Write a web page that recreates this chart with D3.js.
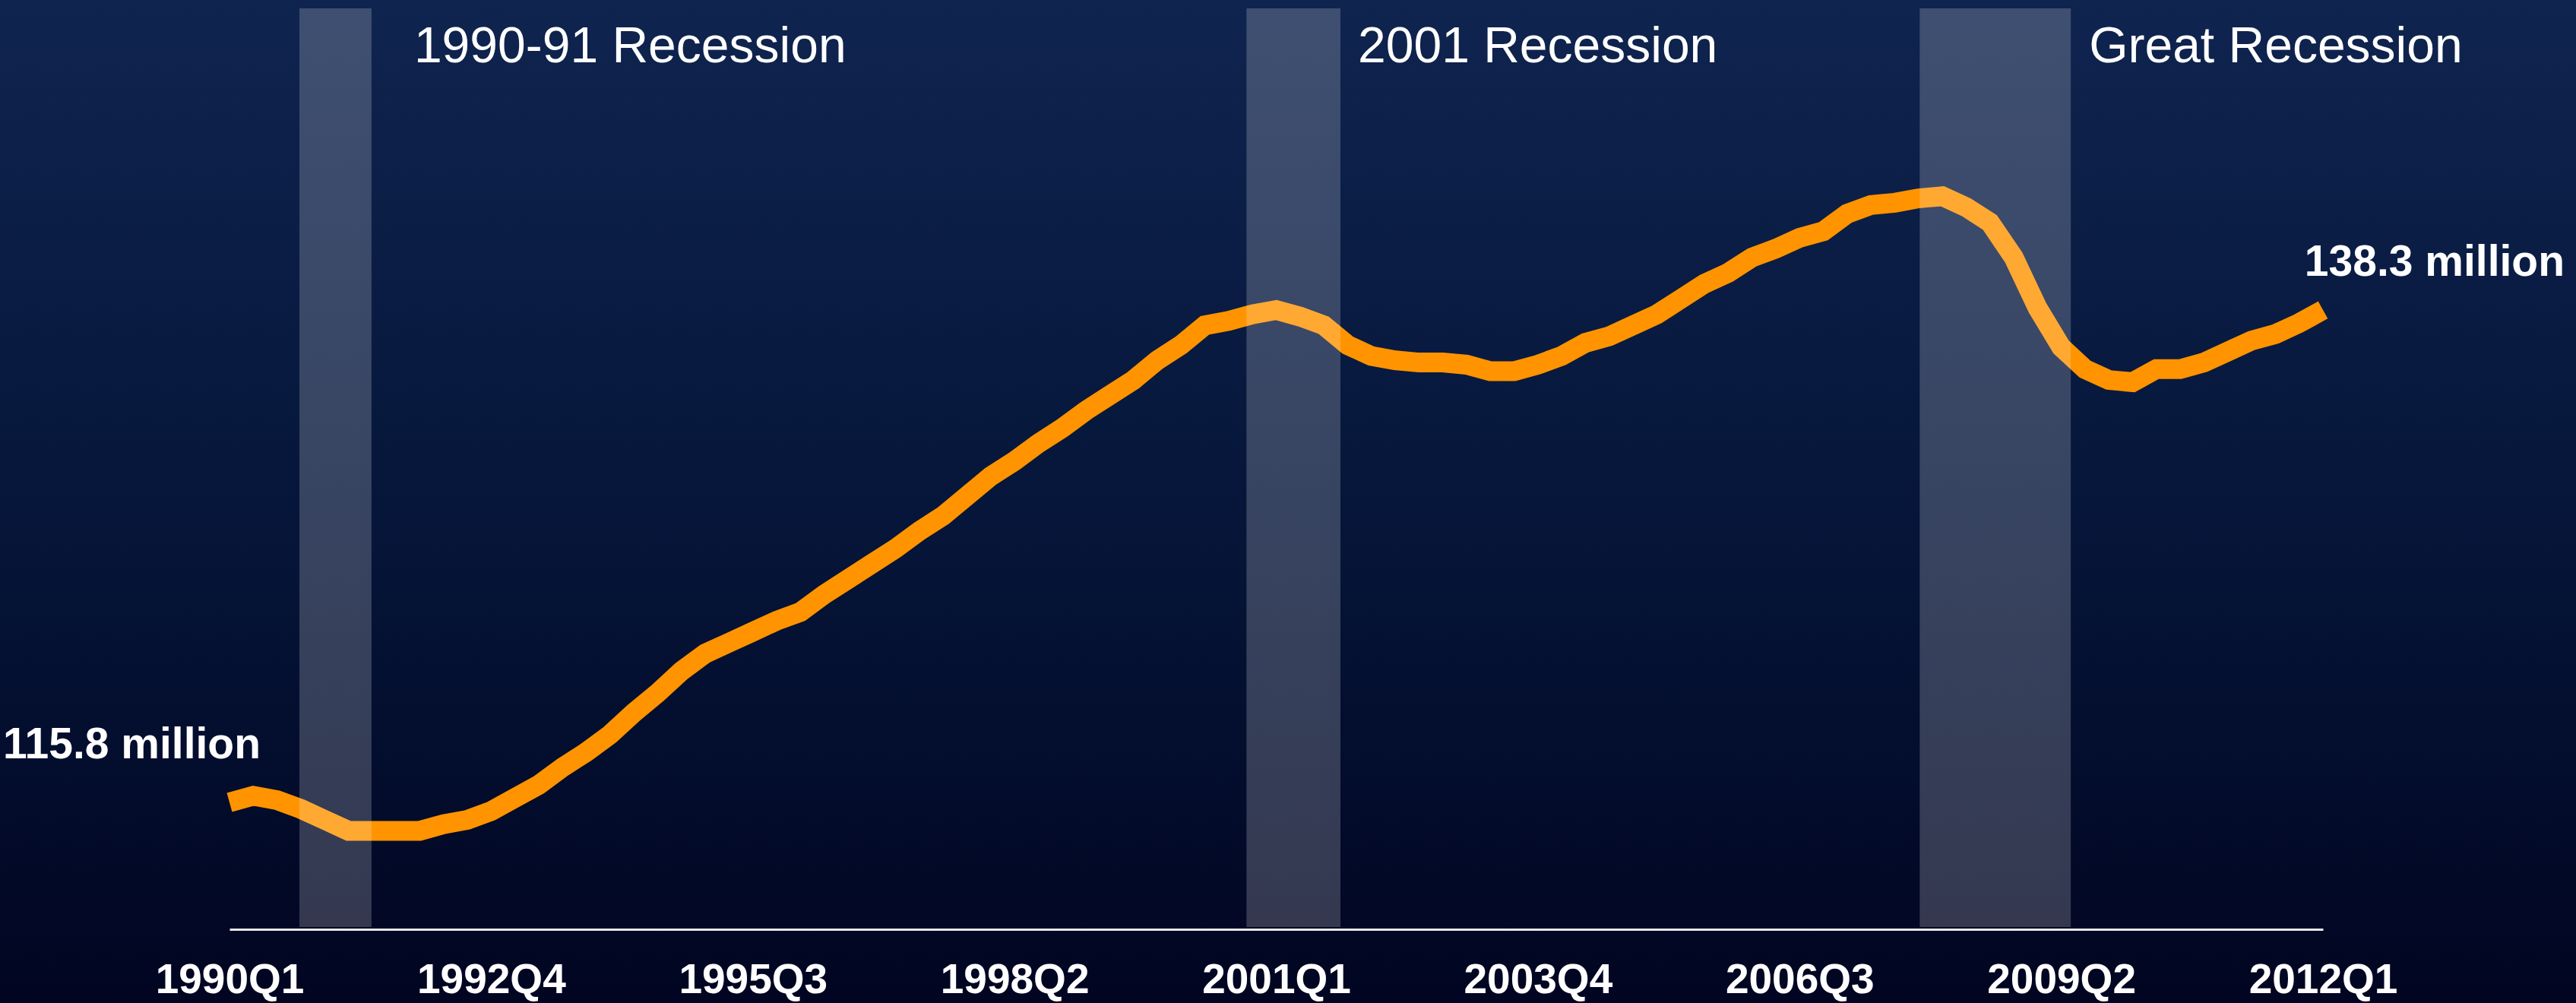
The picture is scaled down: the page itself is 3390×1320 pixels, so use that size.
<!DOCTYPE html>
<html>
<head>
<meta charset="utf-8">
<script src="https://cdn.jsdelivr.net/npm/d3@7"></script>
<style>
  html, body { margin: 0; padding: 0; background: #020826; overflow: hidden; }
  svg { display: block; }
  text { font-family: "Liberation Sans", Arial, Helvetica, sans-serif; fill: #ffffff; }
</style>
</head>
<body>
<script>
// ---------- DATA ----------
const quarters = [];
for (let y = 1990; y <= 2012; y++) {
  for (let q = 1; q <= 4; q++) {
    if (y === 2012 && q > 1) break;
    quarters.push(y + "Q" + q);
  }
}
// employment, millions (quarterly, 1990Q1 .. 2012Q1)
const employment = [
  115.8, 116.1, 115.9, 115.5, 115.0, 114.5, 114.5, 114.5, 114.5, 114.8,
  115.0, 115.4, 116.0, 116.6, 117.4, 118.1, 118.9, 119.9, 120.8, 121.8,
  122.6, 123.1, 123.6, 124.1, 124.5, 125.3, 126.0, 126.7, 127.4, 128.2,
  128.9, 129.8, 130.7, 131.4, 132.2, 132.9, 133.7, 134.4, 135.1, 136.0,
  136.7, 137.6, 137.8, 138.1, 138.3, 138.0, 137.6, 136.7, 136.2, 136.0,
  135.9, 135.9, 135.8, 135.5, 135.5, 135.8, 136.2, 136.8, 137.1, 137.6,
  138.1, 138.8, 139.5, 140.0, 140.7, 141.1, 141.6, 141.9, 142.7, 143.1,
  143.2, 143.4, 143.5, 143.0, 142.3, 140.7, 138.4, 136.6, 135.6, 135.1,
  135.0, 135.6, 135.6, 135.9, 136.4, 136.9, 137.2, 137.7, 138.3
];
const tickLabels = ["1990Q1", "1992Q4", "1995Q3", "1998Q2", "2001Q1", "2003Q4", "2006Q3", "2009Q2", "2012Q1"];
// recession shading, in quarter-index units
const recessionNames = ["1990-91 Recession", "2001 Recession", "Great Recession"];
const recessionStart = [2.94, 42.75, 71.05];
const recessionEnd = [5.97, 46.7, 77.4];
const startLabel = "115.8 million";
const endLabel = "138.3 million";

// ---------- LAYOUT ----------
const W = 3390, H = 1320;
const svg = d3.select("body").append("svg").attr("width", W).attr("height", H);

const defs = svg.append("defs");
const grad = defs.append("linearGradient").attr("id", "bg").attr("x1", 0).attr("y1", 0).attr("x2", 0).attr("y2", 1);
grad.append("stop").attr("offset", "0%").attr("stop-color", "#0f244f");
grad.append("stop").attr("offset", "50%").attr("stop-color", "#06163a");
grad.append("stop").attr("offset", "100%").attr("stop-color", "#010521");
svg.append("rect").attr("width", W).attr("height", H).attr("fill", "url(#bg)");

const x = d3.scaleLinear().domain([0, quarters.length - 1]).range([302, 3057]);
const y = d3.scaleLinear().domain([110, 150]).range([1223, 71]);

// line
const line = d3.line().x((d, i) => x(i)).y(d => y(d));
svg.append("path")
  .datum(employment)
  .attr("d", line)
  .attr("fill", "none")
  .attr("stroke", "#ff9400")
  .attr("stroke-width", 26)
  .attr("stroke-linejoin", "miter")
  .attr("stroke-linecap", "butt");

// recession bands
const bandTop = 11, bandBottom = 1220;
svg.selectAll("rect.band")
  .data(recessionStart)
  .join("rect")
  .attr("class", "band")
  .attr("x", (d) => x(d))
  .attr("width", (d, i) => x(recessionEnd[i]) - x(d))
  .attr("y", bandTop)
  .attr("height", bandBottom - bandTop)
  .attr("fill", "#ffffff")
  .attr("fill-opacity", 0.2);

const labelGap = [56, 23, 24];
svg.selectAll("text.rec")
  .data(recessionNames)
  .join("text")
  .attr("class", "rec")
  .attr("x", (d, i) => x(recessionEnd[i]) + labelGap[i])
  .attr("y", 82)
  .attr("font-size", 66)
  .text(d => d);

// axis
const tickIdx = tickLabels.map(t => quarters.indexOf(t));
const axis = d3.axisBottom(x)
  .tickValues(tickIdx)
  .tickFormat(i => quarters[i])
  .tickSize(0)
  .tickSizeOuter(0);
const gAxis = svg.append("g").attr("transform", "translate(0,1223)").call(axis);
gAxis.select(".domain").attr("stroke", "#e6e6ea").attr("stroke-width", 3);
gAxis.selectAll("text")
  .attr("y", 84)
  .attr("dy", 0)
  .attr("font-size", 55)
  .attr("font-weight", "bold")
  .attr("font-family", "'Liberation Sans', Arial, Helvetica, sans-serif")
  .attr("fill", "#ffffff");

// endpoint value labels
svg.append("text")
  .attr("x", 4)
  .attr("y", y(employment[0]) - 58)
  .attr("font-size", 57)
  .attr("font-weight", "bold")
  .text(startLabel);

svg.append("text")
  .attr("x", 3375)
  .attr("y", y(employment[employment.length - 1]) - 45)
  .attr("text-anchor", "end")
  .attr("font-size", 57)
  .attr("font-weight", "bold")
  .text(endLabel);
</script>
</body>
</html>
